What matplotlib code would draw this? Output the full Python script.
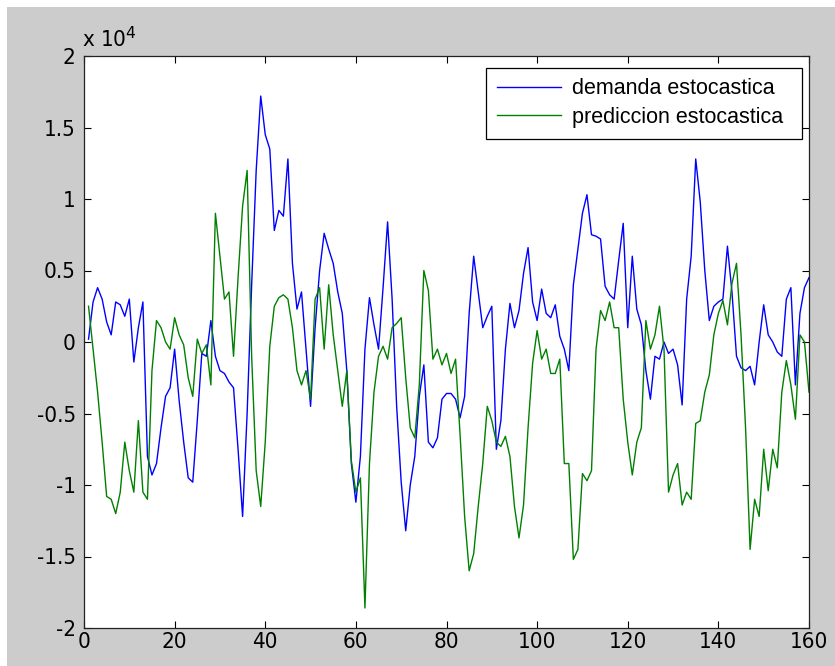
import matplotlib
matplotlib.use("Agg")
import matplotlib.pyplot as plt
from matplotlib.patches import Rectangle
from matplotlib import font_manager
import numpy as np

plt.rcParams['font.family'] = ['Liberation Sans', 'DejaVu Sans']

# values in units of 10^4
demanda = [0.02, 0.28, 0.38, 0.30, 0.14, 0.05, 0.28, 0.26, 0.18, 0.30,
           -0.14, 0.10, 0.28, -0.80, -0.93, -0.85, -0.60, -0.38, -0.32, -0.05,
           -0.41, -0.70, -0.95, -0.98, -0.55, -0.08, -0.10, 0.15, -0.10, -0.20,
           -0.22, -0.28, -0.32, -0.75, -1.22, -0.50, 0.40, 1.20, 1.72, 1.45,
           1.35, 0.78, 0.92, 0.88, 1.28, 0.55, 0.23, 0.35, -0.05, -0.45,
           0.10, 0.50, 0.76, 0.65, 0.55, 0.35, 0.20, -0.20, -0.85, -1.12,
           -0.80, -0.05, 0.31, 0.12, -0.05, 0.38, 0.84, 0.30, -0.45, -0.98,
           -1.32, -1.00, -0.80, -0.38, -0.16, -0.70, -0.74, -0.67, -0.40, -0.36,
           -0.36, -0.40, -0.53, -0.38, 0.20, 0.60, 0.35, 0.10, 0.18, 0.25,
           -0.75, -0.55, -0.05, 0.27, 0.10, 0.22, 0.48, 0.66, 0.28, 0.15,
           0.37, 0.20, 0.17, 0.26, 0.04, -0.05, -0.20, 0.40, 0.65, 0.90,
           1.03, 0.75, 0.74, 0.72, 0.39, 0.33, 0.30, 0.57, 0.83, 0.10,
           0.60, 0.23, 0.12, -0.20, -0.40, -0.10, -0.12, 0.00, -0.08, -0.05,
           -0.16, -0.44, 0.30, 0.60, 1.28, 0.98, 0.50, 0.15, 0.25, 0.28,
           0.30, 0.67, 0.35, -0.10, -0.18, -0.20, -0.17, -0.30, 0.00, 0.26,
           0.05, 0.00, -0.07, -0.10, 0.30, 0.38, -0.30, 0.20, 0.38, 0.45]

prediccion = [0.25, -0.05, -0.35, -0.70, -1.08, -1.10, -1.20, -1.05, -0.70, -0.90,
              -1.05, -0.55, -1.05, -1.10, -0.20, 0.15, 0.10, 0.00, -0.05, 0.17,
              0.05, -0.02, -0.25, -0.38, 0.02, -0.08, -0.02, -0.30, 0.90, 0.60,
              0.30, 0.35, -0.10, 0.45, 0.95, 1.20, -0.10, -0.90, -1.15, -0.70,
              -0.03, 0.25, 0.31, 0.33, 0.30, 0.10, -0.20, -0.30, -0.20, -0.40,
              0.30, 0.38, -0.05, 0.40, 0.05, -0.20, -0.45, -0.20, -0.83, -1.05,
              -0.95, -1.86, -0.85, -0.35, -0.10, -0.03, -0.12, 0.10, 0.13, 0.17,
              -0.25, -0.60, -0.67, -0.30, 0.50, 0.36, -0.12, -0.05, -0.16, -0.08,
              -0.22, -0.12, -0.65, -1.22, -1.60, -1.48, -1.15, -0.85, -0.45, -0.55,
              -0.70, -0.73, -0.66, -0.80, -1.15, -1.37, -1.14, -0.60, -0.15, 0.08,
              -0.12, -0.05, -0.22, -0.22, -0.12, -0.85, -0.85, -1.52, -1.45, -0.92,
              -0.97, -0.90, -0.05, 0.22, 0.15, 0.28, 0.10, 0.10, -0.40, -0.70,
              -0.93, -0.70, -0.60, 0.15, -0.05, 0.05, 0.25, -0.05, -1.05, -0.93,
              -0.85, -1.14, -1.05, -1.10, -0.57, -0.55, -0.35, -0.23, 0.05, 0.20,
              0.29, 0.12, 0.41, 0.55, 0.05, -0.60, -1.45, -1.10, -1.22, -0.75,
              -1.04, -0.75, -0.88, -0.35, -0.13, -0.30, -0.54, 0.05, 0.00, -0.35]

x = np.arange(1, len(demanda) + 1)
xticks = [0, 20, 40, 60, 80, 100, 120, 140, 160]
yticks = [-2, -1.5, -1, -0.5, 0, 0.5, 1, 1.5, 2]
ytick_labels = ['-2', '-1.5', '-1', '-0.5', '0', '0.5', '1', '1.5', '2']
labels = ['demanda estocastica', 'prediccion estocastica']

# look for a condensed sans font for the tick labels
tick_prop = None
for f in font_manager.fontManager.ttflist:
    if ('Narrow' in f.name or 'Condensed' in f.name
            or str(f.stretch) in ('condensed', 'semi-condensed')) \
            and f.style == 'normal' and f.weight in (400, 'normal', 'regular'):
        tick_prop = font_manager.FontProperties(fname=f.fname, size=16)
        break
if tick_prop is None:
    tick_prop = font_manager.FontProperties(family='Liberation Sans', size=14)

W, H = 835, 666
fig = plt.figure(figsize=(W / 100, H / 100), dpi=100, facecolor='#cccccc')
fig.patches.append(Rectangle((0, 1 - 7 / H), 1, 7 / H, transform=fig.transFigure,
                             facecolor='white', edgecolor='none', zorder=0))
fig.patches.append(Rectangle((0, 0), 7 / W, 1, transform=fig.transFigure,
                             facecolor='white', edgecolor='none', zorder=0))

ax = fig.add_axes([84 / W, (H - 628) / H, 725 / W, 572 / H])
ax.set_facecolor('white')
ax.plot(x, demanda, color=(0, 0, 1), lw=1.0, label=labels[0])
ax.plot(x, prediccion, color=(0, 0.5, 0), lw=1.0, label=labels[1])
ax.set_xlim(0, 160)
ax.set_ylim(-2, 2)
ax.set_xticks(xticks)
ax.set_yticks(yticks)
ax.set_yticklabels(ytick_labels)
ax.tick_params(direction='in', length=5, width=0.8, top=True, right=True,
               colors='black')
ax.tick_params(axis='x', pad=3)
ax.tick_params(axis='y', pad=6)
for lab in ax.get_xticklabels() + ax.get_yticklabels():
    lab.set_fontproperties(tick_prop)
for s in ax.spines.values():
    s.set_linewidth(0.9)
    s.set_color('#222222')

ax.text(-0.003, 1.008, r'x 10$^4$', transform=ax.transAxes,
        fontproperties=tick_prop, ha='left', va='bottom')

x0 = (486 - 84) / 725
x1 = (802 - 84) / 725
ytop = (628 - 67.7) / 572
leg = ax.legend(loc='upper left', bbox_to_anchor=(x0, 0.5, x1 - x0, ytop - 0.5),
                mode='expand', fontsize=15.5, fancybox=False, framealpha=1,
                edgecolor='black', borderpad=0.5, handlelength=3.0,
                handletextpad=0.5, borderaxespad=0, labelspacing=0.35)
leg.get_frame().set_linewidth(0.9)

fig.savefig('out.png', dpi=100, facecolor=fig.get_facecolor())
